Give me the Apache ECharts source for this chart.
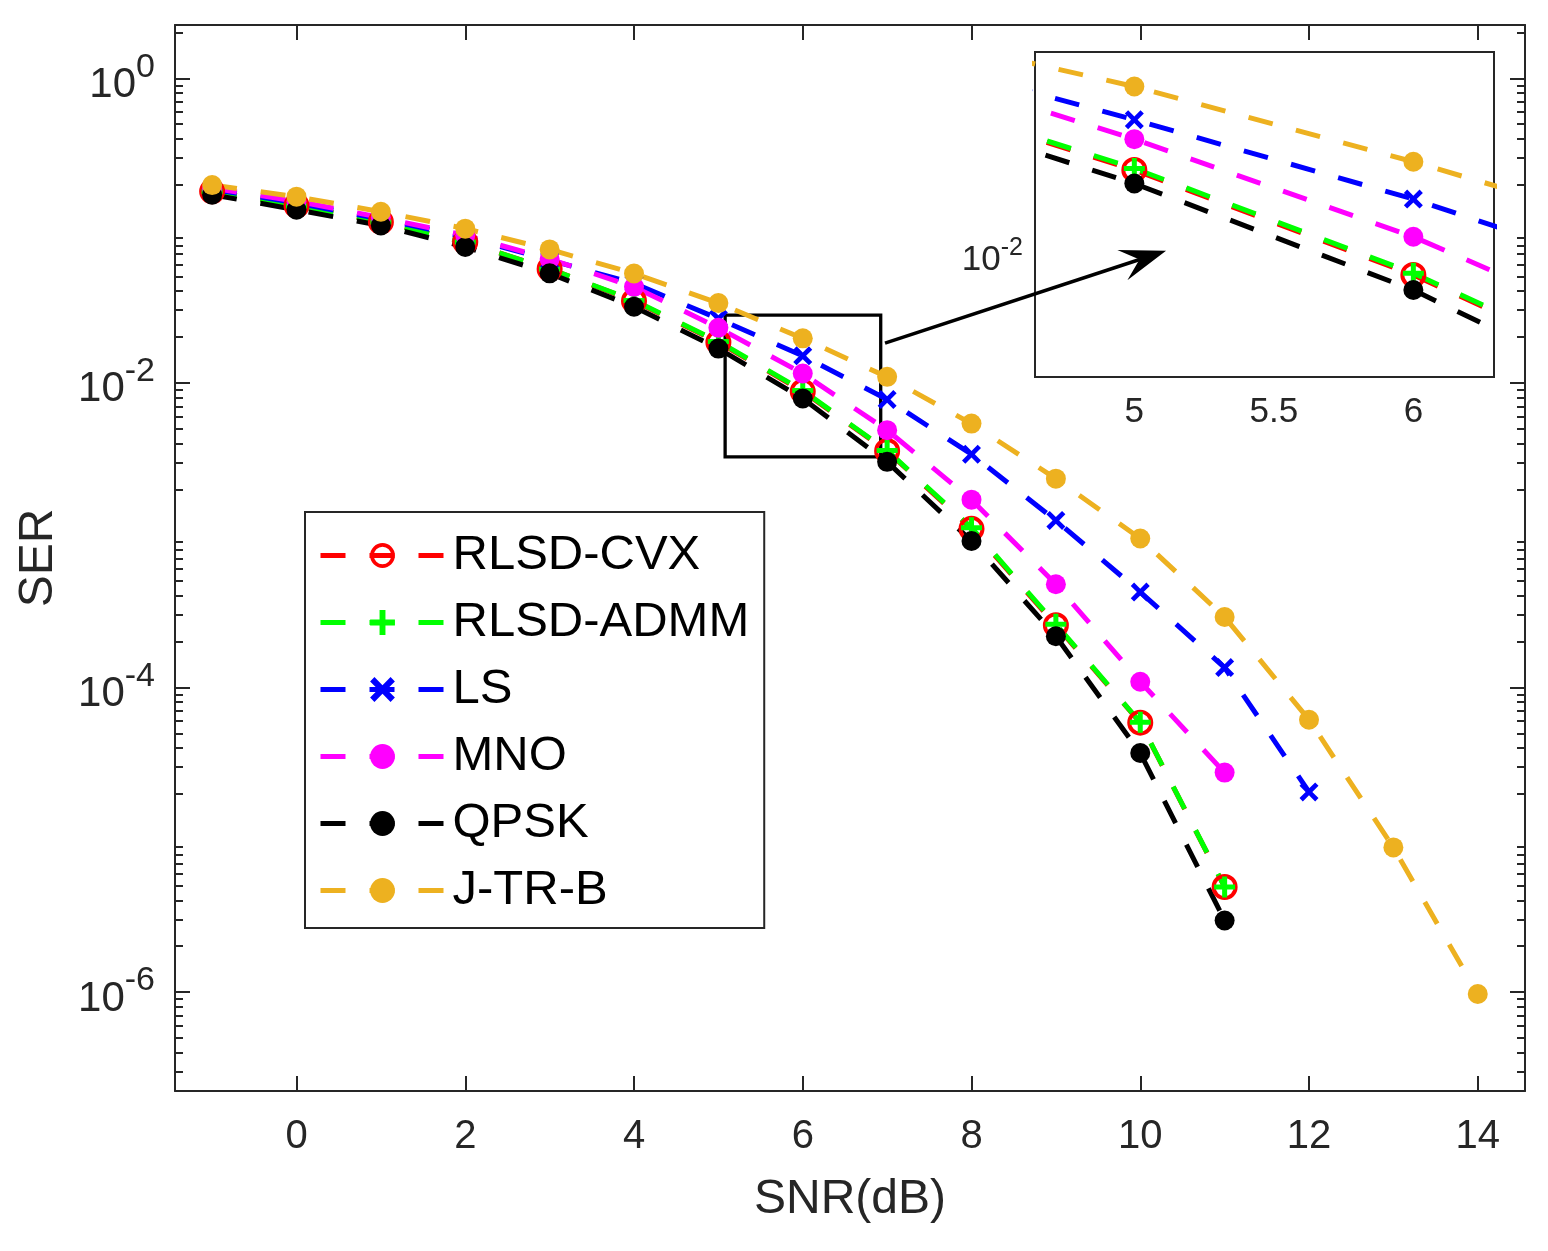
<!DOCTYPE html>
<html>
<head>
<meta charset="utf-8">
<script src="https://cdn.jsdelivr.net/npm/echarts@6/dist/echarts.min.js"></script>
<style>
html,body{margin:0;padding:0;background:#ffffff;}
#chart{width:1548px;height:1251px;}
</style>
</head>
<body>
<div id="chart"></div>
<script>
// ---------------- data ----------------
const snr = [-1, 0, 1, 2, 3, 4, 5, 6, 7, 8, 9, 10, 11, 12, 13, 14];
const serCVX  = [0.181, 0.146, 0.114, 0.084, 0.056, 0.0345, 0.0185, 0.00879, 0.00357, 0.00110, 2.56e-4, 5.87e-5, 4.89e-6];
const serADMM = [0.180, 0.145, 0.114, 0.084, 0.056, 0.0348, 0.0187, 0.00890, 0.00360, 0.00112, 2.60e-4, 5.90e-5, 4.90e-6];
const serLS   = [0.187, 0.152, 0.119, 0.091, 0.064, 0.045, 0.0264, 0.01505, 0.00778, 0.00340, 0.00125, 4.23e-4, 1.35e-4, 2.06e-5];
const serMNO  = [0.190, 0.156, 0.122, 0.093, 0.065, 0.0427, 0.0230, 0.01152, 0.00489, 0.00171, 4.76e-4, 1.09e-4, 2.76e-5];
const serQPSK = [0.172, 0.137, 0.108, 0.078, 0.0524, 0.0316, 0.0168, 0.0079, 0.00303, 9.16e-4, 2.17e-4, 3.71e-5, 2.95e-6];
const serJTRB = [0.199, 0.167, 0.133, 0.103, 0.0752, 0.0523, 0.0334, 0.0196, 0.01095, 0.0054, 0.00235, 9.5e-4, 2.9e-4, 6.14e-5, 8.9e-6, 9.7e-7];

const seriesNames = ['RLSD-CVX', 'RLSD-ADMM', 'LS', 'MNO', 'QPSK', 'J-TR-B'];
const seriesValues = [serCVX, serADMM, serLS, serMNO, serQPSK, serJTRB];

// axis ticks / ranges
const mainXTicks = [0, 2, 4, 6, 8, 10, 12, 14];
const mainXRange = [-1.44, 14.56];
const mainYDecades = [-6, -4, -2, 0];
const mainYRangeExp = [-6.65, 0.35];
const insetXTicks = [5, 5.5, 6];
const insetXRange = [4.644, 6.289];
const insetYDecades = [-2];
const insetYRangeExp = [-2.37, -1.37];

// annotations (data coordinates: SNR, SER)
const zoomBoxFrom = [5.08, 0.02786];
const zoomBoxTo = [6.924, 0.003266];
const arrowFrom = [6.975, 0.01824];
const arrowTo = [10.047, 0.06607];

// ---------------- styles ----------------
const FF = "'Liberation Sans', Arial, Helvetica, sans-serif";
const TXT = '#262626';
const colors = ['#FF0000', '#00FF00', '#0000FF', '#FF00FF', '#000000', '#EDB120'];
const RING = 'path://M12,0A12,12,0,0,1,24,12A12,12,0,0,1,12,24A12,12,0,0,1,0,12A12,12,0,0,1,12,0ZM12,3.6A8.4,8.4,0,0,0,3.6,12A8.4,8.4,0,0,0,12,20.4A8.4,8.4,0,0,0,20.4,12A8.4,8.4,0,0,0,12,3.6Z';
const PLUS = 'path://M8,0H13V8H21V13H13V21H8V13H0V8H8Z';
const XMARK = 'path://M0,3.5L3.5,0L10,6.5L16.5,0L20,3.5L13.5,10L20,16.5L16.5,20L10,13.5L3.5,20L0,16.5L6.5,10Z';
const ARROW = 'path://M23,0L39,46L23,28L7,46ZM0,0L0,0M46,46L46,46';
const symbols = [RING, PLUS, XMARK, 'circle', 'circle', 'circle'];
const symbolSizes = [26, 21, 19, 20, 20, 20];

function minorExps(range) {
  const out = [];
  for (let k = -8; k <= 1; k++) {
    for (let m = 2; m <= 9; m++) {
      const v = Math.log10(m) + k;
      if (v > range[0] && v < range[1]) out.push(v);
    }
  }
  return out;
}

function pairs(vals) { return vals.map((v, i) => [snr[i], v]); }

function mkSeries(i, xi, yi, extra) {
  return Object.assign({
    name: seriesNames[i],
    type: 'line',
    xAxisIndex: xi,
    yAxisIndex: yi,
    data: pairs(seriesValues[i]),
    symbol: symbols[i],
    symbolSize: symbolSizes[i],
    symbolKeepAspect: true,
    showSymbol: true,
    showAllSymbol: true,
    clip: true,
    silent: true,
    animation: false,
    lineStyle: { color: colors[i], width: 5, type: [25, 24], cap: 'butt' },
    itemStyle: { color: colors[i], borderWidth: 0 },
    emphasis: { disabled: true }
  }, extra || {});
}

const line2 = { color: TXT, width: 2 };

function hiddenLogAxis(grid, range) {
  return {
    type: 'log', gridIndex: grid, min: Math.pow(10, range[0]), max: Math.pow(10, range[1]),
    show: false, axisLine: { show: false, onZero: false }, axisTick: { show: false },
    axisLabel: { show: false }, splitLine: { show: false }
  };
}

function tickAxis(grid, pos, range, ticks, len, showLine, label, extra) {
  return Object.assign({
    type: 'value', gridIndex: grid, position: pos, min: range[0], max: range[1],
    axisLine: { show: showLine, onZero: false, lineStyle: line2 },
    axisTick: { show: true, inside: true, length: len, customValues: ticks, lineStyle: line2 },
    axisLabel: label ? Object.assign({ show: true, customValues: ticks }, label) : { show: false },
    splitLine: { show: false },
    silent: true
  }, extra || {});
}

const powLabel = (baseSize, supSize, lh, margin) => ({
  margin: margin,
  formatter: v => '{h| }{b|10}{s|' + Math.round(v) + '}',
  rich: {
    h: { fontSize: 1, lineHeight: lh, fontFamily: FF },
    b: { fontSize: baseSize, lineHeight: baseSize, verticalAlign: 'bottom', color: TXT, fontFamily: FF },
    s: { fontSize: supSize, lineHeight: supSize, verticalAlign: 'top', color: TXT, fontFamily: FF }
  }
});

const mainMinor = minorExps(mainYRangeExp);
const insetMinor = minorExps(insetYRangeExp);

const series = [];
for (let i = 0; i < 6; i++) {
  const extra = {};
  if (i === 4) {
    extra.markArea = {
      silent: true,
      itemStyle: { color: 'rgba(0,0,0,0)', borderColor: '#000', borderWidth: 3.3 },
      label: { show: false },
      data: [[{ coord: zoomBoxFrom }, { coord: zoomBoxTo }]]
    };
    extra.markLine = {
      silent: true,
      animation: false,
      symbol: ['none', ARROW],
      symbolSize: 46,
      label: { show: false },
      lineStyle: { color: '#000', width: 3.5, type: 'solid' },
      data: [[{ coord: arrowFrom }, { coord: arrowTo }]]
    };
  }
  series.push(mkSeries(i, 0, 0, extra));
}
for (let i = 0; i < 6; i++) series.push(mkSeries(i, 2, 5));

const option = {
  animation: false,
  backgroundColor: '#ffffff',
  textStyle: { fontFamily: FF },
  grid: [
    { left: 175, top: 25, width: 1350, height: 1066, show: false },
    { left: 1035, top: 52, width: 459, height: 325, show: true, backgroundColor: '#ffffff', borderColor: TXT, borderWidth: 2, z: 1 }
  ],
  legend: {
    show: true,
    orient: 'vertical',
    left: 305, top: 512,
    data: seriesNames,
    itemWidth: 124, itemHeight: 31, itemGap: 18,
    padding: [19, 15, 13, 13],
    backgroundColor: '#ffffff', borderColor: TXT, borderWidth: 2, borderRadius: 0,
    selectedMode: false,
    textStyle: { fontSize: 49, color: '#000000', fontFamily: FF, padding: [0, 0, 0, 3] },
    lineStyle: { width: 5 },
    z: 10
  },
  xAxis: [
    tickAxis(0, 'bottom', mainXRange, mainXTicks, 15, true,
      { margin: 26, fontSize: 40, color: TXT, fontFamily: FF },
      { name: 'SNR(dB)', nameLocation: 'middle', nameGap: 85, nameTextStyle: { fontSize: 48, color: TXT, fontFamily: FF } }),
    tickAxis(0, 'top', mainXRange, mainXTicks, 15, true, null),
    tickAxis(1, 'bottom', insetXRange, insetXTicks, 5, false,
      { margin: 18, fontSize: 35, color: TXT, fontFamily: FF }),
    tickAxis(1, 'top', insetXRange, insetXTicks, 5, false, null)
  ],
  yAxis: [
    hiddenLogAxis(0, mainYRangeExp),
    tickAxis(0, 'left', mainYRangeExp, mainYDecades, 15, true, powLabel(42, 34, 56, 20),
      { name: 'SER', nameLocation: 'middle', nameGap: 112, nameTextStyle: { fontSize: 48, color: TXT, fontFamily: FF } }),
    tickAxis(0, 'left', mainYRangeExp, mainMinor, 8, false, null),
    tickAxis(0, 'right', mainYRangeExp, mainYDecades, 15, true, null),
    tickAxis(0, 'right', mainYRangeExp, mainMinor, 8, false, null),
    hiddenLogAxis(1, insetYRangeExp),
    tickAxis(1, 'left', insetYRangeExp, insetYDecades, 5, false, powLabel(35, 25, 43, 12)),
    tickAxis(1, 'left', insetYRangeExp, insetMinor, 4, false, null),
    tickAxis(1, 'right', insetYRangeExp, insetYDecades, 5, false, null),
    tickAxis(1, 'right', insetYRangeExp, insetMinor, 4, false, null)
  ],
  series: series
};

const chart = echarts.init(document.getElementById('chart'), null, { renderer: 'canvas', width: 1548, height: 1251 });
chart.setOption(option);
</script>
</body>
</html>
